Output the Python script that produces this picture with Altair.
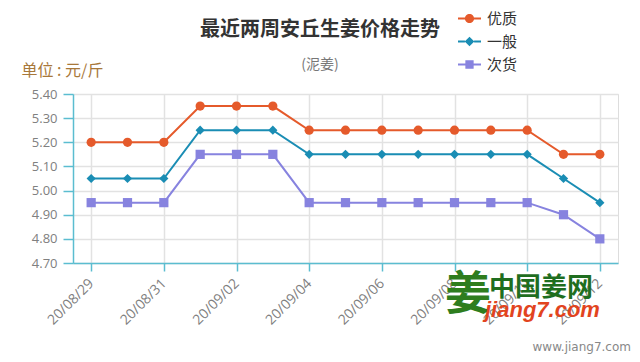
import altair as alt
import pandas as pd

dates = ["20/08/29", "20/08/30", "20/08/31", "20/09/01", "20/09/02", "20/09/03", "20/09/04",
         "20/09/05", "20/09/06", "20/09/07", "20/09/08", "20/09/09", "20/09/10", "20/09/11", "20/09/12"]
series_names = ["优质", "一般", "次货"]
youzhi = [5.20, 5.20, 5.20, 5.35, 5.35, 5.35, 5.25, 5.25, 5.25, 5.25, 5.25, 5.25, 5.25, 5.15, 5.15]
yiban = [5.05, 5.05, 5.05, 5.25, 5.25, 5.25, 5.15, 5.15, 5.15, 5.15, 5.15, 5.15, 5.15, 5.05, 4.95]
cihuo = [4.95, 4.95, 4.95, 5.15, 5.15, 5.15, 4.95, 4.95, 4.95, 4.95, 4.95, 4.95, 4.95, 4.90, 4.80]
tick_labels = dates[::2]
y_ticks = [4.70, 4.80, 4.90, 5.00, 5.10, 5.20, 5.30, 5.40]

colors = ["#E55A2B", "#1A8DB4", "#8783DF"]
marker_shapes = ["circle", "diamond", "square"]
legend_shapes = [
    "M-1,-0.09H-0.38V0.09H-1Z M0.38,-0.09H1V0.09H0.38Z M0.4,0A0.4,0.4,0,1,1,-0.4,0A0.4,0.4,0,1,1,0.4,0Z",
    "M-1,-0.09H-0.4V0.09H-1Z M0.4,-0.09H1V0.09H0.4Z M0,-0.42L0.42,0L0,0.42L-0.42,0Z",
    "M-1,-0.09H-0.36V0.09H-1Z M0.36,-0.09H1V0.09H0.36Z M-0.36,-0.36H0.36V0.36H-0.36Z",
]

rows = []
for name, vals in zip(series_names, [youzhi, yiban, cihuo]):
    for d, v in zip(dates, vals):
        rows.append({"date": d, "series": name, "series_l": name, "value": v})
df = pd.DataFrame(rows)

axis_color = "#5BBDD0"
grid_color = "#E2E2E2"

x_enc = alt.X("date:O", sort=dates,
              scale=alt.Scale(type="point", padding=0.5),
              axis=alt.Axis(values=tick_labels, title=None, labelAngle=-45,
                            labelAlign="right", labelBaseline="middle",
                            labelColor="#808080", labelFontSize=14, labelPadding=10,
                            labelFont="Open Sans",
                            domainColor=axis_color, domainWidth=1.5,
                            tickColor=axis_color, tickSize=8, tickWidth=1.5,
                            grid=True, gridColor=grid_color, gridWidth=1.5))
y_enc = alt.Y("value:Q",
              scale=alt.Scale(domain=[4.70, 5.40], zero=False, nice=False),
              axis=alt.Axis(values=y_ticks, format=".2f", title="单位 : 元/斤",
                            titleAngle=0, titleAlign="left", titleBaseline="middle",
                            titleX=-52, titleY=-24, titleColor="#A8783A",
                            titleFontSize=16, titleFontWeight="normal",
                            titleFont="Noto Sans CJK SC",
                            labelColor="#808080", labelFontSize=13, labelPadding=6,
                            labelFont="Open Sans",
                            domainColor=axis_color, domainWidth=1.5,
                            tickColor=axis_color, tickSize=10, tickWidth=1.5,
                            grid=True, gridColor=grid_color, gridWidth=1.5))

color_scale = alt.Scale(domain=series_names, range=colors)

base = alt.Chart(df)

lines = base.mark_line(strokeWidth=2).encode(
    x=x_enc, y=y_enc,
    color=alt.Color("series:N", scale=color_scale, legend=None),
)

points = base.mark_point(filled=True, opacity=1, size=85).encode(
    x=x_enc, y=y_enc,
    color=alt.Color("series:N", scale=color_scale, legend=None),
    shape=alt.Shape("series:N", scale=alt.Scale(domain=series_names, range=marker_shapes),
                    legend=None),
)

legend_layer = base.mark_point(filled=True, opacity=1).encode(
    x=x_enc, y=y_enc,
    color=alt.Color("series_l:N", scale=alt.Scale(domain=series_names, range=colors),
                    legend=alt.Legend(title=None, orient="none", legendX=385, legendY=-87,
                                      labelFontSize=15, labelColor="#333333",
                                      labelFont="Noto Sans CJK SC",
                                      rowPadding=3, symbolSize=529, symbolStrokeWidth=0,
                                      labelOffset=6)),
    shape=alt.Shape("series_l:N", scale=alt.Scale(domain=series_names, range=legend_shapes)),
).transform_filter("datum.value < 0")

title_df = pd.DataFrame({"t": ["最近两周安丘生姜价格走势"]})
title = alt.Chart(title_df).mark_text(fontSize=20, fontWeight="bold", color="#333333",
                                      font="Noto Sans CJK SC").encode(
    text="t:N", x=alt.value(247), y=alt.value(-64))
sub = alt.Chart(pd.DataFrame({"t": ["(泥姜)"]})).mark_text(
    fontSize=14, color="#777777", font="Noto Sans CJK SC").encode(
    text="t:N", x=alt.value(247), y=alt.value(-29))

wm = alt.Chart(pd.DataFrame({"t": ["www.jiang7.com"]})).mark_text(
    fontSize=12, color="#888888", align="right", font="DejaVu Sans").encode(
    text="t:N", x=alt.value(558), y=alt.value(253))

logo1 = alt.Chart(pd.DataFrame({"t": ["中国姜网"]})).mark_text(
    fontSize=26, color="#1F6E1F", fontWeight="bold", align="left",
    font="Noto Sans CJK SC").encode(text="t:N", x=alt.value(416), y=alt.value(194))
logo2 = alt.Chart(pd.DataFrame({"t": ["jiang7.com"]})).mark_text(
    fontSize=22, color="#E2441E", fontWeight="bold", fontStyle="italic", align="left",
    font="Liberation Sans").encode(text="t:N", x=alt.value(412), y=alt.value(216))
logo3 = alt.Chart(pd.DataFrame({"t": ["姜"]})).mark_text(
    fontSize=46, color="#2E7D1E", fontWeight="bold", align="center",
    font="Noto Sans CJK SC").encode(text="t:N", x=alt.value(395), y=alt.value(201))

chart = alt.layer(lines, points, legend_layer, title, sub, logo3, logo1, logo2, wm).resolve_scale(
    shape="independent", color="independent"
).properties(
    width=545, height=169,
    padding={"left": 65, "top": 86, "right": 14, "bottom": 91},
    autosize=alt.AutoSizeParams(type="none"),
).configure_view(stroke=None).configure(background="white")

chart.save("out.html", embed_options={"renderer": "svg", "actions": False})
